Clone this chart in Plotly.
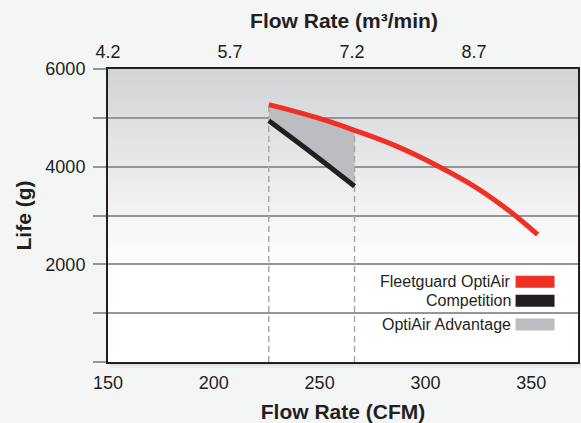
import plotly.graph_objects as go

# ---------------- data ----------------
cfm_ticks = [150, 200, 250, 300, 350]
m3_ticks = [4.2, 5.7, 7.2, 8.7]
m3_ticklabels = ["4.2", "5.7", "7.2", "8.7"]
life_ticks = [0, 1000, 2000, 3000, 4000, 5000, 6000]
life_ticklabels = ["", "", "2000", "", "4000", "", "6000"]

optiair_cfm = [226, 240, 254, 266.5, 286, 306.5, 324, 340, 353]
optiair_life = [5270, 5112, 4933, 4745, 4425, 4000, 3573, 3082, 2610]

competition_cfm = [226, 246, 266.5]
competition_life = [4940, 4290, 3600]

advantage_cfm = [226, 266.5]

legend_names = ["Fleetguard OptiAir", "Competition", "OptiAir Advantage"]

# ---------------- styles ----------------
RED = "#ee3124"
BLACK = "#231f20"
GRAY_FILL = "#bcbdc0"
GRID = "#939598"
DASH = "#a7a9ac"
TXT = "#231f20"
FONT = "Liberation Sans, Arial, sans-serif"

W, H = 581, 423
ML, MR, MT, MB = 108, 2.5, 69, 61
PW, PH = W - ML - MR, H - MT - MB


def px_x(px):
    return (px - ML) / PW


def px_y(py):
    return (H - MB - py) / PH


fig = go.Figure()

# advantage fill (between competition and optiair inside advantage range)
lo, hi = advantage_cfm
adv_x = [x for x in optiair_cfm if lo <= x <= hi]
adv_y = [y for x, y in zip(optiair_cfm, optiair_life) if lo <= x <= hi]

fig.add_trace(go.Scatter(x=competition_cfm, y=competition_life, mode="lines",
                         line=dict(width=0, shape="spline"), hoverinfo="skip",
                         showlegend=False))
fig.add_trace(go.Scatter(x=adv_x, y=adv_y, mode="lines", fill="tonexty",
                         fillcolor=GRAY_FILL, line=dict(width=0, shape="spline"),
                         hoverinfo="skip", showlegend=False))

# dashed drop lines
for xv, yv in ((adv_x[0], adv_y[0]), (adv_x[-1], adv_y[-1])):
    fig.add_trace(go.Scatter(x=[xv, xv], y=[0, yv], mode="lines",
                             line=dict(color=DASH, width=1.5, dash="6px,4px"),
                             hoverinfo="skip", showlegend=False))

fig.add_trace(go.Scatter(x=competition_cfm, y=competition_life, mode="lines",
                         name=legend_names[1],
                         line=dict(color=BLACK, width=5, shape="spline"),
                         showlegend=False))
fig.add_trace(go.Scatter(x=optiair_cfm, y=optiair_life, mode="lines",
                         name=legend_names[0],
                         line=dict(color=RED, width=5, shape="spline"),
                         showlegend=False))

# dummy trace for top axis
fig.add_trace(go.Scatter(x=[], y=[], xaxis="x2", yaxis="y", showlegend=False))

shapes = []
# soft shadow strip under the plot area
for y0p, y1p, a in ((363, 364.5, 0.12), (364.5, 366, 0.07), (366, 368, 0.035)):
    shapes.append(dict(type="rect", xref="paper", yref="paper",
                       x0=px_x(ML + 2), x1=px_x(W + 2),
                       y0=px_y(y1p), y1=px_y(y0p),
                       fillcolor="rgba(0,0,0,%.3f)" % a, line=dict(width=0),
                       layer="below"))

# background gradient bands (top gray fading to white)
top_c = (210, 211, 213)
n = 40
g0 = 0.333
for i in range(n):
    f0 = g0 + (1 - g0) * i / n
    f1 = g0 + (1 - g0) * (i + 1) / n
    t = (i + 0.5) / n  # 0 at bottom of gradient, 1 at top
    c = tuple(int(round(255 + (tc - 255) * t)) for tc in top_c)
    shapes.append(dict(type="rect", xref="x domain", yref="y domain",
                       x0=0, x1=1, y0=f0, y1=min(1, f1 + 0.002),
                       fillcolor="rgb(%d,%d,%d)" % c, line=dict(width=0),
                       layer="below"))

# legend swatches
legend_colors = [RED, BLACK, GRAY_FILL]
legend_cy = [281.7, 300.7, 324.5]
annotations = []
for name, col, cy in zip(legend_names, legend_colors, legend_cy):
    shapes.append(dict(type="rect", xref="paper", yref="paper",
                       x0=px_x(516), x1=px_x(555), y0=px_y(cy + 6), y1=px_y(cy - 6),
                       fillcolor=col, line=dict(width=0), layer="above"))
    annotations.append(dict(text=name, xref="paper", yref="paper",
                            x=px_x(513), y=px_y(cy), xanchor="right",
                            yanchor="middle", showarrow=False,
                            font=dict(family=FONT, size=16, color=TXT)))

fig.update_layout(
    width=W, height=H,
    margin=dict(l=ML, r=MR, t=MT, b=MB, pad=0, autoexpand=False),
    paper_bgcolor="#f4f5f5",
    plot_bgcolor="#ffffff",
    font=dict(family=FONT, color=TXT, size=18),
    title=dict(text="Flow Rate (m³/min)", x=(344) / W, xanchor="center",
               y=1 - 20.7 / H, yanchor="middle", yref="container",
               font=dict(family=FONT, size=21, color=TXT, weight="bold")),
    xaxis=dict(range=[150, 372.1], tickvals=cfm_ticks, ticks="",
               showgrid=False, zeroline=False, showline=True, linecolor=BLACK,
               linewidth=2, mirror=True, tickfont=dict(size=18), automargin=False,
               ticklabelstandoff=3,
               title=dict(text="Flow Rate (CFM)", standoff=14,
                          font=dict(size=21, weight="bold"))),
    xaxis2=dict(range=[4.1995, 9.98], overlaying="x", side="top",
                tickvals=m3_ticks, ticktext=m3_ticklabels, ticks="",
                showgrid=False, zeroline=False, showline=False, automargin=False,
                ticklabelstandoff=6, tickfont=dict(size=18)),
    yaxis=dict(range=[0, 6000], tickvals=life_ticks, ticktext=life_ticklabels,
               ticks="outside", ticklen=13, tickwidth=1.5, tickcolor=GRID,
               showgrid=True, gridcolor=GRID, gridwidth=1.5, zeroline=False,
               showline=True, linecolor=BLACK, linewidth=2, mirror=True,
               tickfont=dict(size=18), automargin=False, ticklabelstandoff=4,
               title=dict(text="Life (g)", standoff=8,
                          font=dict(size=21, weight="bold"))),
    shapes=shapes,
    annotations=annotations,
    showlegend=False,
)

fig.write_html(
    "out.html",
    config={"displayModeBar": False},
    post_script="document.body.style.margin='0';document.body.style.overflow='hidden';",
)
